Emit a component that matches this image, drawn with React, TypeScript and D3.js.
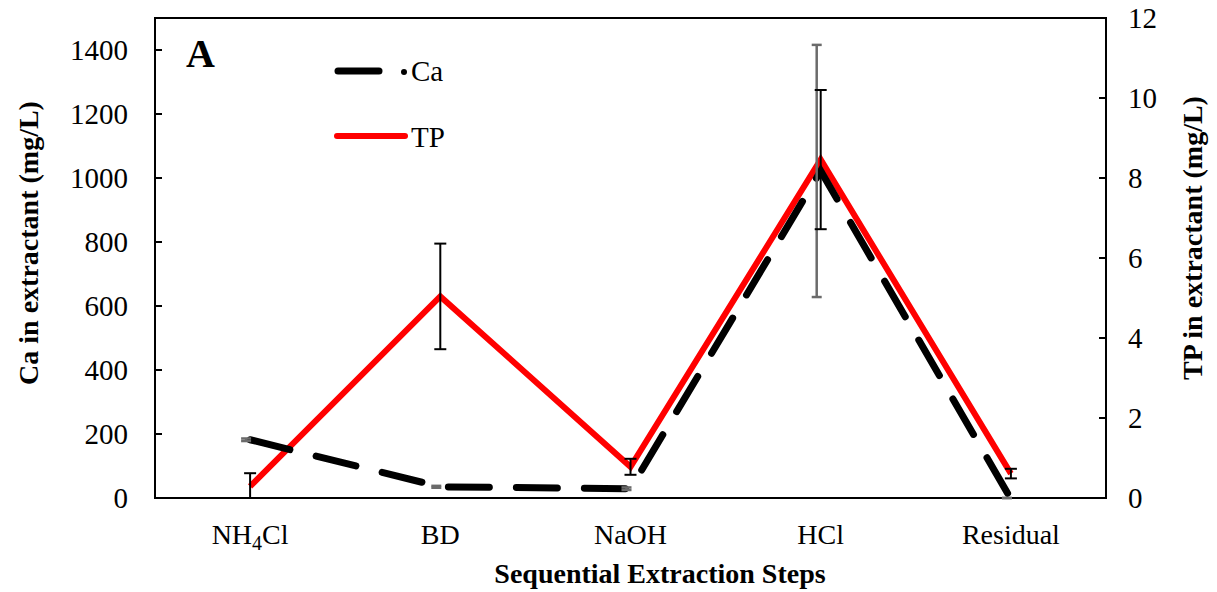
import * as d3 from 'd3'

const STEPS = ['NH4Cl', 'BD', 'NaOH', 'HCl', 'Residual']
const CA = [182, 35, 29, 1022, -3]
const CA_ERR = [4, 3, 4, 394, 2]
const TP = [0.29, 5.04, 0.78, 8.46, 0.61]
const TP_ERR = [0.33, 1.32, 0.2, 1.74, 0.12]
const CA_TICKS = [0, 200, 400, 600, 800, 1000, 1200, 1400]
const TP_TICKS = [0, 2, 4, 6, 8, 10, 12]

const W = 1217
const H = 592
const FONT = '"Liberation Serif", "Times New Roman", serif'

export default function App() {
  const left = 155
  const right = 1106
  const top = 18
  const bottom = 498

  const x = d3.scalePoint<string>().domain(STEPS).range([left, right]).padding(0.5)
  const yCa = d3.scaleLinear().domain([0, 1500]).range([bottom, top])
  const yTp = d3.scaleLinear().domain([0, 12]).range([bottom, top])

  const line = d3.line<[number, number]>().x(d => d[0]).y(d => d[1])
  const caPts: [number, number][] = STEPS.map((s, i) => [x(s)!, yCa(CA[i])])
  const tpPts: [number, number][] = STEPS.map((s, i) => [x(s)!, yTp(TP[i])])

  const cap = 6
  const clampY = (v: number) => Math.min(bottom, Math.max(top, v))

  const catLabel = (s: string) =>
    s === 'NH4Cl' ? (
      <>
        NH<tspan fontSize={20} dy={6}>4</tspan>
        <tspan dy={-6}>Cl</tspan>
      </>
    ) : (
      s
    )

  return (
    <svg width={W} height={H} style={{ position: 'absolute', left: 0, top: 0 }} fontFamily={FONT}>
      <rect width={W} height={H} fill="#fff" />

      {/* frame */}
      <rect x={left} y={top} width={right - left} height={bottom - top} fill="none" stroke="#000" strokeWidth={2} />

      {/* left axis ticks */}
      {CA_TICKS.map(t => (
        <g key={'l' + t}>
          <line x1={left} x2={left + 7} y1={yCa(t)} y2={yCa(t)} stroke="#000" strokeWidth={2} />
          <text x={128} y={yCa(t)} dy="0.35em" textAnchor="end" fontSize={29}>
            {t}
          </text>
        </g>
      ))}

      {/* right axis ticks */}
      {TP_TICKS.map(t => (
        <g key={'r' + t}>
          <line x1={right - 7} x2={right} y1={yTp(t)} y2={yTp(t)} stroke="#000" strokeWidth={2} />
          <text x={1128} y={yTp(t)} dy="0.35em" textAnchor="start" fontSize={29}>
            {t}
          </text>
        </g>
      ))}

      {/* category labels */}
      {STEPS.map(s => (
        <text key={s} x={x(s)!} y={544} textAnchor="middle" fontSize={28}>
          {catLabel(s)}
        </text>
      ))}

      {/* axis titles */}
      <text x={660} y={583} textAnchor="middle" fontSize={28} fontWeight="bold">
        Sequential Extraction Steps
      </text>
      <text transform={`translate(38,243) rotate(-90)`} textAnchor="middle" fontSize={28} fontWeight="bold">
        Ca in extractant (mg/L)
      </text>
      <text transform={`translate(1202,238) rotate(-90)`} textAnchor="middle" fontSize={28} fontWeight="bold">
        TP in extractant (mg/L)
      </text>

      {/* series */}
      <path
        d={line(tpPts)!}
        fill="none"
        stroke="#ff0000"
        strokeWidth={6}
        strokeLinejoin="miter"
      />
      <path
        d={line(caPts)!}
        fill="none"
        stroke="#000"
        strokeWidth={7}
        strokeDasharray="41,27"
        strokeLinecap="round"
      />

      {/* Ca error bars */}
      {STEPS.map((s, i) => {
        const cx = x(s)! - 4
        const y1 = clampY(yCa(CA[i] + CA_ERR[i]))
        const y2 = clampY(yCa(CA[i] - CA_ERR[i]))
        return (
          <g key={'ce' + s} stroke="#6b6b6b" strokeWidth={2.5}>
            <line x1={cx} x2={cx} y1={y1} y2={y2} />
            <line x1={cx - 5} x2={cx + 5} y1={y1} y2={y1} />
            <line x1={cx - 5} x2={cx + 5} y1={y2} y2={y2} />
          </g>
        )
      })}

      {/* TP error bars */}
      {STEPS.map((s, i) => {
        const cx = x(s)!
        const y1 = clampY(yTp(TP[i] + TP_ERR[i]))
        const y2 = clampY(yTp(TP[i] - TP_ERR[i]))
        return (
          <g key={'te' + s} stroke="#000" strokeWidth={2}>
            <line x1={cx} x2={cx} y1={y1} y2={y2} />
            <line x1={cx - cap} x2={cx + cap} y1={y1} y2={y1} />
            {y2 < bottom && <line x1={cx - cap} x2={cx + cap} y1={y2} y2={y2} />}
          </g>
        )
      })}

      {/* panel letter */}
      <text x={186} y={67} fontSize={40} fontWeight="bold">
        A
      </text>

      {/* legend */}
      <line x1={338} x2={379} y1={71} y2={71} stroke="#000" strokeWidth={7} strokeLinecap="round" />
      <circle cx={404} cy={72} r={3} fill="#000" />
      <text x={411} y={81} fontSize={29}>
        Ca
      </text>
      <line x1={337} x2={405} y1={136} y2={136} stroke="#ff0000" strokeWidth={6} strokeLinecap="round" />
      <text x={411} y={147} fontSize={29}>
        TP
      </text>
    </svg>
  )
}
